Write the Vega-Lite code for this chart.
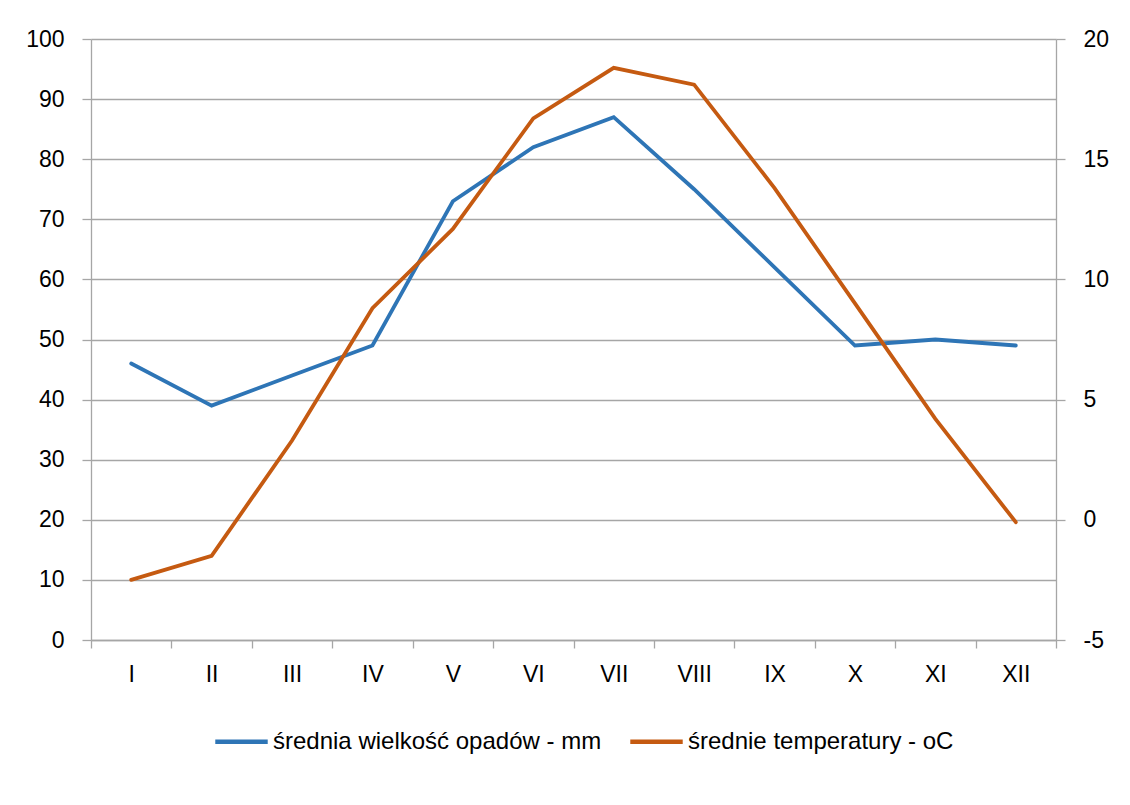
{
  "$schema": "https://vega.github.io/schema/vega-lite/v6.json",
  "width": 965,
  "height": 601,
  "autosize": "none",
  "padding": {"left": 91, "top": 39, "right": 74, "bottom": 165},
  "background": "white",
  "config": {
    "view": {"stroke": null},
    "font": "Liberation Sans",
    "axis": {
      "labelFont": "Liberation Sans",
      "labelFontSize": 23,
      "labelColor": "#000000",
      "domainColor": "#a6a6a6",
      "tickColor": "#a6a6a6",
      "gridColor": "#a6a6a6",
      "domainWidth": 1.3,
      "tickWidth": 1.3,
      "gridWidth": 1.3,
      "title": null
    }
  },
  "data": {
    "values": [
      {"miesiac": "I", "opady": 46, "temp": -2.5},
      {"miesiac": "II", "opady": 39, "temp": -1.5},
      {"miesiac": "III", "opady": 44, "temp": 3.3},
      {"miesiac": "IV", "opady": 49, "temp": 8.8},
      {"miesiac": "V", "opady": 73, "temp": 12.1},
      {"miesiac": "VI", "opady": 82, "temp": 16.7},
      {"miesiac": "VII", "opady": 87, "temp": 18.8},
      {"miesiac": "VIII", "opady": 75, "temp": 18.1},
      {"miesiac": "IX", "opady": 62, "temp": 13.8},
      {"miesiac": "X", "opady": 49, "temp": 9.0},
      {"miesiac": "XI", "opady": 50, "temp": 4.2},
      {"miesiac": "XII", "opady": 49, "temp": -0.1}
    ]
  },
  "encoding": {
    "x": {
      "field": "miesiac",
      "type": "ordinal",
      "sort": null,
      "scale": {"type": "band", "paddingInner": 0, "paddingOuter": 0},
      "axis": {
        "title": null,
        "labelAngle": 0,
        "tickBand": "extent",
        "tickSize": 8,
        "labelPadding": 15,
        "grid": false
      }
    }
  },
  "layer": [
    {
      "mark": {"type": "line", "strokeWidth": 3.8, "strokeCap": "round", "strokeJoin": "miter"},
      "encoding": {
        "y": {
          "field": "opady",
          "type": "quantitative",
          "scale": {"domain": [0, 100], "nice": false, "zero": false},
          "axis": {
            "orient": "left",
            "values": [0, 10, 20, 30, 40, 50, 60, 70, 80, 90, 100],
            "grid": true,
            "tickSize": 9,
            "labelPadding": 18
          }
        },
        "color": {
          "datum": "średnia wielkość opadów - mm",
          "type": "nominal",
          "scale": {
            "domain": ["średnia wielkość opadów - mm", "średnie temperatury - oC"],
            "range": ["#2e75b6", "#c55a11"]
          },
          "legend": {
            "title": null,
            "orient": "none",
            "direction": "horizontal",
            "legendX": 122,
            "legendY": 674,
            "padding": 0,
            "symbolType": "stroke",
            "symbolSize": 2750,
            "symbolStrokeWidth": 4.5,
            "labelFont": "Liberation Sans",
            "labelFontSize": 24,
            "labelColor": "#000000",
            "labelOffset": 3,
            "columnPadding": 19,
            "labelLimit": 500
          }
        }
      }
    },
    {
      "mark": {"type": "line", "strokeWidth": 3.8, "strokeCap": "round", "strokeJoin": "miter"},
      "encoding": {
        "y": {
          "field": "temp",
          "type": "quantitative",
          "scale": {"domain": [-5, 20], "nice": false, "zero": false},
          "axis": {
            "orient": "right",
            "values": [-5, 0, 5, 10, 15, 20],
            "labelExpr": "replace(datum.label, '−', '-')",
            "grid": false,
            "tickSize": 9,
            "labelPadding": 18
          }
        },
        "color": {"datum": "średnie temperatury - oC", "type": "nominal"}
      }
    }
  ],
  "resolve": {"scale": {"y": "independent"}}
}
